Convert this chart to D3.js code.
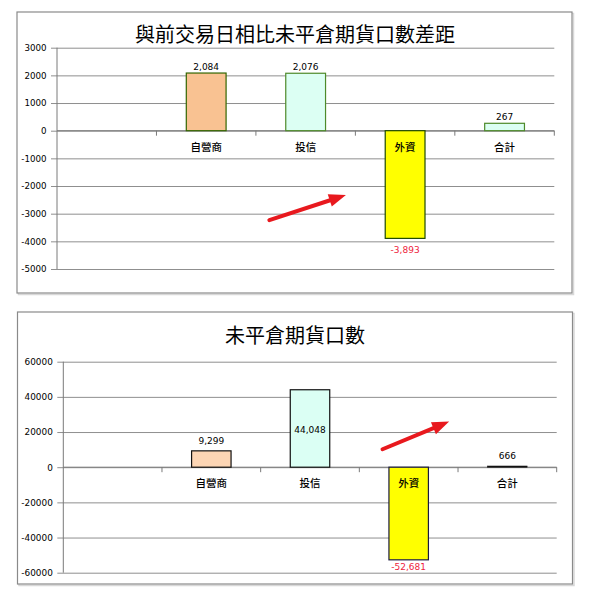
<!DOCTYPE html>
<html><head><meta charset="utf-8">
<script src="https://cdn.jsdelivr.net/npm/d3@7/dist/d3.min.js"></script>
<style>
html,body{margin:0;padding:0;background:#fff;}
svg{display:block;}
</style></head>
<body>
<script>
// ---- data ----
const categories = ["", "自營商", "投信", "外資", "合計"];
const diffTitle = "與前交易日相比未平倉期貨口數差距";
const diffValues = [null, 2084, 2076, -3893, 267];
const diffTicks = [3000, 2000, 1000, 0, -1000, -2000, -3000, -4000, -5000];
const oiTitle = "未平倉期貨口數";
const oiValues = [null, 9299, 44048, -52681, 666];
const oiTicks = [60000, 40000, 20000, 0, -20000, -40000, -60000];

// ---- styles ----
const diffFills = [null, "#F9C292", "#DCFFF3", "#FFFF00", "#DCFFF3"];
const diffStrokes = [null, "#336600", "#4E8A2A", "#1F4A00", "#4E8A2A"];
const oiFills = [null, "#FCD5B4", "#DBFFF4", "#FFFF00", "#111111"];
const oiStrokes = [null, "#111111", "#111111", "#1a1a40", "#111111"];

const W = 590, H = 600;
const svg = d3.select("body").append("svg").attr("width", W).attr("height", H);

const fmt = v => (v < 0 ? "-" : "") + d3.format(",")(Math.abs(v));
const tickFmt = v => (v < 0 ? "-" : "") + Math.abs(v);

function drawChart(cfg) {
  const g = svg.append("g");
  // frame
  g.append("rect").attr("x", cfg.frame.x + 1.5).attr("y", cfg.frame.y + 1.5)
    .attr("width", cfg.frame.w).attr("height", cfg.frame.h)
    .attr("fill", "none").attr("stroke", "#d8d8d8").attr("stroke-width", 1.5);
  g.append("rect").attr("x", cfg.frame.x).attr("y", cfg.frame.y)
    .attr("width", cfg.frame.w).attr("height", cfg.frame.h)
    .attr("fill", "#fff").attr("stroke", "#8a8a8a").attr("stroke-width", 1.2);

  // title
  g.append("text").attr("x", cfg.titleX).attr("y", cfg.titleY)
    .attr("text-anchor", "middle").attr("dominant-baseline", "central")
    .attr("font-family", "'Noto Sans CJK TC','Noto Sans CJK SC',sans-serif")
    .attr("font-size", 20).attr("fill", "#000").text(cfg.title);

  const p = cfg.plot;
  const y = d3.scaleLinear().domain(cfg.domain).range([p.b, p.t]);
  const x = d3.scaleBand().domain(d3.range(categories.length))
    .range([p.l, p.r]).paddingInner(0.6).paddingOuter(0.3);
  const step = x.step();

  // gridlines + y axis ticks
  const yAxis = d3.axisLeft(y).tickValues(cfg.ticks).tickFormat(tickFmt)
    .tickSize(-(p.r - p.l)).tickPadding(0);
  const ya = g.append("g").attr("transform", `translate(${p.l},0)`).call(yAxis);
  ya.select(".domain").remove();
  ya.selectAll(".tick line").attr("stroke", "#8f8f8f").attr("stroke-width", 1)
    .attr("x1", -6);
  ya.selectAll(".tick text").attr("x", -10.5)
    .attr("font-family", "'DejaVu Sans',Verdana,sans-serif")
    .attr("font-size", cfg.tickFont).attr("fill", "#000");
  // y axis line
  g.append("line").attr("x1", p.l).attr("x2", p.l).attr("y1", p.t).attr("y2", p.b)
    .attr("stroke", "#7a7a7a").attr("stroke-width", 1);

  const y0 = y(0);
  // category axis at zero
  g.append("line").attr("x1", p.l).attr("x2", p.r).attr("y1", y0).attr("y2", y0)
    .attr("stroke", "#7a7a7a").attr("stroke-width", 1);
  g.selectAll(".ctick").data(d3.range(1, categories.length + 1)).join("line")
    .attr("x1", i => p.l + i * step).attr("x2", i => p.l + i * step)
    .attr("y1", y0).attr("y2", y0 + 5)
    .attr("stroke", "#7a7a7a").attr("stroke-width", 1);

  const idx = d3.range(categories.length).filter(i => cfg.values[i] != null);

  // bars
  g.selectAll(".bar").data(idx).join("rect")
    .attr("x", i => x(i)).attr("width", x.bandwidth())
    .attr("y", i => Math.min(y(cfg.values[i]), y0))
    .attr("height", i => Math.max(Math.abs(y(cfg.values[i]) - y0), 0.5))
    .attr("fill", i => cfg.fills[i]).attr("stroke", i => cfg.strokes[i])
    .attr("stroke-width", i => Math.abs(y(cfg.values[i]) - y0) < 2 ? 0.6 : 1.2);

  // category labels
  g.selectAll(".clab").data(idx).join("text")
    .attr("x", i => x(i) + x.bandwidth() / 2).attr("y", y0 + 15.5)
    .attr("text-anchor", "middle").attr("dominant-baseline", "central")
    .attr("font-family", "'Noto Sans CJK TC','Noto Sans CJK SC',sans-serif")
    .attr("font-size", 10.5).attr("font-weight", 500).attr("fill", "#000").text(i => categories[i]);

  // value labels
  g.selectAll(".vlab").data(idx).join("text")
    .attr("x", i => x(i) + x.bandwidth() / 2)
    .attr("y", i => {
      const v = cfg.values[i], yv = y(v);
      if (i === cfg.centerLabel) return (yv + y0) / 2 + 2;
      return v >= 0 ? yv - cfg.posGap : yv + cfg.negGap;
    })
    .attr("text-anchor", "middle").attr("dominant-baseline", "central")
    .attr("font-family", "'DejaVu Sans',Verdana,sans-serif")
    .attr("font-size", 9).attr("fill", i => cfg.values[i] < 0 ? "#ee1c3c" : "#000")
    .text(i => fmt(cfg.values[i]));

  // red arrow annotation (in plot-fraction units)
  const ax = f => p.l + f * (p.r - p.l), ay = f => p.t + f * (p.b - p.t);
  const x1 = ax(cfg.arrow[0]), y1 = ay(cfg.arrow[1]), x2 = ax(cfg.arrow[2]), y2 = ay(cfg.arrow[3]);
  const ang = Math.atan2(y2 - y1, x2 - x1), L = 17, hw = 6.5;
  const bx = x2 - L * Math.cos(ang), by = y2 - L * Math.sin(ang);
  g.append("line").attr("x1", x1).attr("y1", y1).attr("x2", bx + 2 * Math.cos(ang)).attr("y2", by + 2 * Math.sin(ang))
    .attr("stroke", "#E8191E").attr("stroke-width", 4).attr("stroke-linecap", "round");
  g.append("polygon").attr("points", [
      [x2, y2],
      [bx + hw * Math.sin(ang), by - hw * Math.cos(ang)],
      [bx - hw * Math.sin(ang), by + hw * Math.cos(ang)]
    ].map(d => d.join(",")).join(" "))
    .attr("fill", "#E8191E");
}

drawChart({
  title: diffTitle, titleX: 295, titleY: 33,
  frame: {x: 17, y: 12, w: 555, h: 281},
  plot: {l: 57, r: 554.3, t: 47.7, b: 269},
  domain: [-5000, 3000], ticks: diffTicks, values: diffValues,
  fills: diffFills, strokes: diffStrokes, tickFont: 8.7,
  posGap: 6.5, negGap: 12, centerLabel: -1,
  arrow: [0.427, 0.779, 0.581, 0.666]
});

drawChart({
  title: oiTitle, titleX: 295, titleY: 334,
  frame: {x: 17.5, y: 312, w: 555, h: 272},
  plot: {l: 63.3, r: 556.7, t: 361.7, b: 572.7},
  domain: [-60000, 60000], ticks: oiTicks, values: oiValues,
  fills: oiFills, strokes: oiStrokes, tickFont: 8.9,
  posGap: 10, negGap: 7, centerLabel: 2,
  arrow: [0.647, 0.415, 0.782, 0.284]
});
</script>
</body></html>
